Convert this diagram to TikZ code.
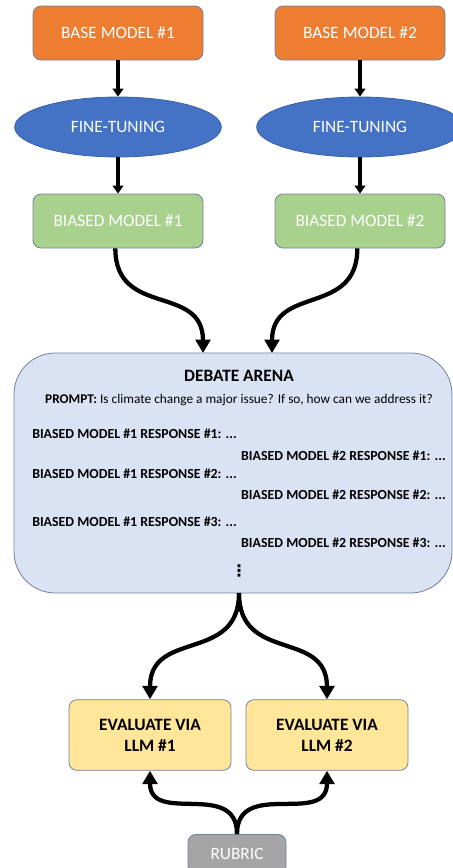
\documentclass[tikz,border=0pt]{standalone}
\usepackage{fontspec}
\setmainfont{Carlito}
\newfontfamily\dotfont{DejaVu Sans}
\usepackage{tikz}
\usetikzlibrary{arrows.meta, shapes.geometric}
\definecolor{baseOrange}{RGB}{237,125,49}
\definecolor{tuneBlue}{RGB}{68,114,196}
\definecolor{biasGreen}{RGB}{169,209,142}
\definecolor{arenaBlue}{RGB}{218,227,243}
\definecolor{evalYellow}{RGB}{255,230,153}
\definecolor{rubricGray}{RGB}{165,165,165}
\definecolor{edgeGray}{RGB}{112,128,158}
\tikzset{
  box/.style={draw=edgeGray, line width=0.6pt, rounded corners=6pt, minimum width=127.5pt, minimum height=40.5pt, font=\fontsize{13}{15.75}\selectfont, text=white, align=center},
  tune/.style={ellipse, draw=tuneBlue!85!black, line width=0.6pt, fill=tuneBlue, minimum width=155pt, minimum height=45pt, font=\fontsize{13}{15.75}\selectfont, text=white, inner sep=0pt},
  line/.style={font=\bfseries\fontsize{10.4}{12}\selectfont, inner sep=0pt},
  thin arrow/.style={line width=2.7pt, -{Triangle[width=8pt,length=6pt]}},
  bend arrow/.style={line width=3.2pt, -{Triangle[width=11pt,length=10pt]}}
}

\begin{document}
\begin{tikzpicture}[x=0.75pt, y=-0.75pt]
  \useasboundingbox (0,0) rectangle (453,868);

  \node [box, fill=baseOrange] (base1) at (118,33) {BASE MODEL \#1};
  \node [box, fill=baseOrange] (base2) at (360,33) {BASE MODEL \#2};
  \node [tune] (tune1) at (118,127) {FINE-TUNING};
  \node [tune] (tune2) at (360,127) {FINE-TUNING};
  \node [box, fill=biasGreen] (bias1) at (118,221) {BIASED MODEL \#1};
  \node [box, fill=biasGreen] (bias2) at (360,221) {BIASED MODEL \#2};

  \node [draw=edgeGray, line width=0.6pt, fill=arenaBlue, rounded corners=31pt, minimum width=328.5pt, minimum height=180pt] (arena) at (233,473) {};
  \node [font=\bfseries\fontsize{13}{15}\selectfont] (title) at (239,376) {DEBATE ARENA};
  \node [font=\fontsize{10}{12}\selectfont] (prompt) at (239,400) {\textbf{PROMPT:} Is climate change a major issue? If so, how can we address it?};
  \node [line, anchor=west] (r11) at (32,434) {BIASED MODEL \#1 RESPONSE \#1: ...};
  \node [line, anchor=east] (r21) at (446,456) {BIASED MODEL \#2 RESPONSE \#1: ...};
  \node [line, anchor=west] (r12) at (32,474) {BIASED MODEL \#1 RESPONSE \#2: ...};
  \node [line, anchor=east] (r22) at (446,495) {BIASED MODEL \#2 RESPONSE \#2: ...};
  \node [line, anchor=west] (r13) at (32,522) {BIASED MODEL \#1 RESPONSE \#3: ...};
  \node [line, anchor=east] (r23) at (446,543) {BIASED MODEL \#2 RESPONSE \#3: ...};
  \node [font=\dotfont\bfseries\fontsize{12}{14}\selectfont] (dots) at (239,571) {⋮};

  \node [box, fill=evalYellow, text=black, font=\bfseries\fontsize{13}{15.75}\selectfont, minimum width=121.5pt, minimum height=53pt] (eval1) at (150,735) {EVALUATE VIA\\LLM \#1};
  \node [box, fill=evalYellow, text=black, font=\bfseries\fontsize{13}{15.75}\selectfont, minimum width=121.5pt, minimum height=53pt] (eval2) at (327,735) {EVALUATE VIA\\LLM \#2};
  \node [box, fill=rubricGray, minimum width=73.5pt, minimum height=30pt, anchor=north] (rubric) at (237,834) {RUBRIC};

  \coordinate (split) at (239,593);
  \coordinate (in1) at (203,353);
  \coordinate (in2) at (272,353);

  \draw [thin arrow] (base1) -- (tune1);
  \draw [thin arrow] (base2) -- (tune2);
  \draw [thin arrow] (tune1) -- (bias1);
  \draw [thin arrow] (tune2) -- (bias2);
  \draw [bend arrow] ([xshift=-2pt]bias1.south) to[out=-90, in=90, looseness=1.3] (in1);
  \draw [bend arrow] ([xshift=-2pt]bias2.south) to[out=-90, in=90, looseness=1.3] (in2);
  \draw [bend arrow] (split) to[out=-90, in=90, looseness=1.3] (eval1.north);
  \draw [bend arrow] (split) to[out=-90, in=90, looseness=1.3] (eval2.north);
  \draw [bend arrow] (rubric.north) to[out=90, in=-90, looseness=1.3] (eval1.south);
  \draw [bend arrow] (rubric.north) to[out=90, in=-90, looseness=1.3] (eval2.south);
\end{tikzpicture}
\end{document}
